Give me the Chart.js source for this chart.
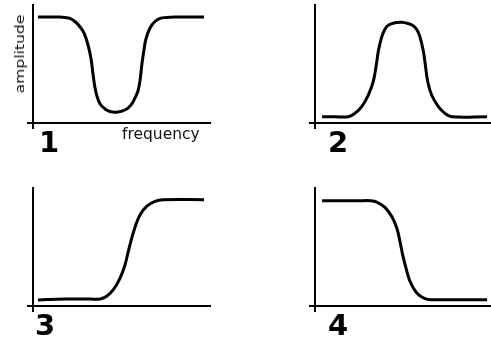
<!DOCTYPE html>
<html>
<head>
<meta charset="utf-8">
<script src="https://cdn.jsdelivr.net/npm/chart.js@4.4.1/dist/chart.umd.min.js"></script>
<style>
  body { margin: 0; background: #fff; }
  #wrap { position: relative; width: 491px; height: 340px; overflow: hidden; font-family: "DejaVu Sans", Verdana, sans-serif; color: #000; }
  .panel { position: absolute; }
  .num { position: absolute; font-size: 29px; line-height: 29px; font-weight: bold; }
  .lbl { position: absolute; font-size: 15.5px; line-height: 15.5px; white-space: nowrap; color: #111; }
</style>
</head>
<body>
<div id="wrap">
  <div class="panel" style="left:0px;top:0px"><canvas id="chart1" width="212" height="131"></canvas></div>
  <div class="panel" style="left:282px;top:0px"><canvas id="chart2" width="212" height="131"></canvas></div>
  <div class="panel" style="left:0px;top:183px"><canvas id="chart3" width="212" height="131"></canvas></div>
  <div class="panel" style="left:282px;top:183px"><canvas id="chart4" width="212" height="131"></canvas></div>

  <div class="num" id="num1" style="left:39px;top:128px"></div>
  <div class="num" id="num2" style="left:328px;top:128px"></div>
  <div class="num" id="num3" style="left:35px;top:311px"></div>
  <div class="num" id="num4" style="left:328px;top:311px"></div>

  <div class="lbl" id="xlabel" style="left:122px;top:127.4px"></div>
  <div class="lbl" id="ylabel" style="left:19.5px;top:53.7px;font-size:12px;line-height:12px;transform:translate(-50%,-50%) rotate(-90deg) scaleX(1.3)"></div>
</div>

<script>
// panel labels and axis names
const panelNames = ['1', '2', '3', '4'];
const xName = 'frequency';
const yName = 'amplitude';

// 1: band-stop
const stopX = [2.8, 15.3, 18.1, 20.9, 23.7, 26.6, 28.8, 31.1, 32.8, 33.9, 35.0, 36.2, 37.9, 40.7, 43.5, 48.0,
               52.5, 55.4, 57.6, 59.3, 60.5, 61.6, 62.7, 63.8, 66.1, 68.9, 71.8, 75.1, 80.2, 96.6];
const stopY = [89.8, 89.8, 89.4, 88.6, 86.0, 81.4, 76.3, 66.1, 54.2, 41.5, 30.0, 22.5, 16.1, 11.9, 9.7, 9.3,
               11.4, 15.3, 21.2, 27.1, 36.4, 50.8, 61.9, 71.2, 80.5, 86.0, 88.6, 89.4, 89.8, 89.8];

// 2: band-pass
const passX = [4.0, 11.3, 18.8, 22.6, 26.4, 30.1, 32.9, 34.9, 35.8, 37.7, 39.5, 41.4, 45.2, 49.0, 52.5,
               55.5, 57.5, 59.3, 61.2, 62.1, 63.7, 65.9, 69.7, 73.4, 77.2, 97.2];
const passY = [5.3, 5.3, 5.3, 8.2, 13.8, 23.7, 35.0, 51.9, 61.0, 73.0, 79.5, 82.8, 84.9, 85.3, 84.3,
               82.5, 79.2, 73.0, 61.0, 51.9, 35.0, 23.7, 13.8, 8.2, 5.3, 5.3];

// 3: high-pass
const highX = [2.8, 18.1, 32.2, 37.9, 41.6, 45.4, 49.2, 52.0, 53.8, 55.6, 57.6, 60.5, 64.2, 68.9, 73.6, 96.6];
const highY = [5.1, 5.9, 5.9, 5.9, 8.2, 13.8, 23.7, 35.0, 46.0, 56.5, 66.5, 77.4, 84.5, 88.7, 90.1, 90.1];

// 4: low-pass
const lowX = [4.0, 25.4, 31.1, 34.9, 39.5, 43.3, 46.2, 48.0, 49.5, 51.4, 53.7, 57.5, 62.1, 66.8, 76.3, 97.2];
const lowY = [89.2, 89.2, 89.2, 88.1, 83.6, 76.0, 66.1, 54.8, 43.5, 32.2, 20.9, 11.0, 6.2, 5.3, 5.3, 5.3];

panelNames.forEach((n, i) => {
  document.getElementById('num' + (i + 1)).textContent = n;
});
document.getElementById('xlabel').textContent = xName;
document.getElementById('ylabel').textContent = yName;

// axis: only a tick at the origin, so the two axes cross a little
function axis(len) {
  return {
    type: 'linear',
    min: 0,
    max: 100,
    afterBuildTicks: (s) => { s.ticks = [{ value: 0 }]; },
    ticks: { display: false },
    grid: { drawOnChartArea: false, drawTicks: true, tickLength: len, color: '#000', lineWidth: 2 },
    border: { display: true, color: '#000', width: 2 }
  };
}

function makePanel(id, xs, ys) {
  const pts = xs.map((x, i) => ({ x: x, y: ys[i] }));
  new Chart(document.getElementById(id), {
    type: 'line',
    data: {
      datasets: [{
        data: pts,
        borderColor: '#000',
        borderWidth: 3,
        pointRadius: 0,
        tension: 0.4,
        fill: false
      }]
    },
    options: {
      responsive: false,
      animation: false,
      events: [],
      layout: { autoPadding: false, padding: { left: 27, right: 2, top: 5, bottom: 2 } },
      plugins: { legend: { display: false }, tooltip: { enabled: false } },
      scales: {
        x: axis(6),
        y: axis(6)
      }
    }
  });
}

makePanel('chart1', stopX, stopY);
makePanel('chart2', passX, passY);
makePanel('chart3', highX, highY);
makePanel('chart4', lowX, lowY);
</script>
</body>
</html>
